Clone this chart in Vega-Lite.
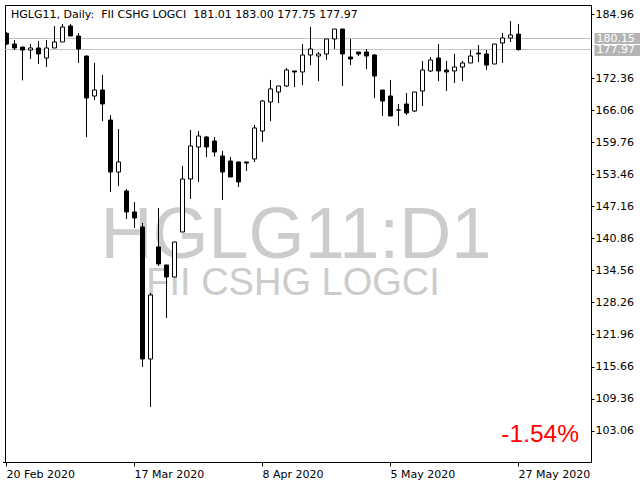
{
  "$schema": "https://vega.github.io/schema/vega-lite/v6.json",
  "width": 586,
  "height": 457,
  "autosize": {"type": "none"},
  "padding": {"left": 5, "top": 5, "right": 49, "bottom": 18},
  "background": "white",
  "title": {
    "text": "HGLG11, Daily:\u00a0 FII CSHG LOGCI\u00a0 181.01 183.00 177.75 177.97",
    "anchor": "start",
    "frame": "group",
    "offset": -24,
    "dx": 6,
    "font": "DejaVu Sans",
    "fontSize": 11,
    "fontWeight": "normal",
    "color": "black",
    "baseline": "alphabetic"
  },
  "datasets": {
    "ohlc": [
      {"d": "2020-02-20", "o": 181.15, "h": 181.40, "l": 178.90, "c": 179.06},
      {"d": "2020-02-21", "o": 179.06, "h": 179.85, "l": 177.88, "c": 178.28},
      {"d": "2020-02-26", "o": 178.47, "h": 178.47, "l": 171.90, "c": 177.88},
      {"d": "2020-02-27", "o": 177.88, "h": 179.06, "l": 176.11, "c": 178.28},
      {"d": "2020-02-28", "o": 178.28, "h": 179.65, "l": 175.13, "c": 177.10},
      {"d": "2020-03-02", "o": 176.31, "h": 179.85, "l": 174.54, "c": 178.28},
      {"d": "2020-03-03", "o": 178.28, "h": 182.60, "l": 178.28, "c": 179.46},
      {"d": "2020-03-04", "o": 179.46, "h": 182.99, "l": 179.46, "c": 182.40},
      {"d": "2020-03-05", "o": 182.60, "h": 182.99, "l": 180.64, "c": 180.64},
      {"d": "2020-03-06", "o": 180.64, "h": 181.22, "l": 175.33, "c": 178.08},
      {"d": "2020-03-09", "o": 176.70, "h": 176.80, "l": 160.78, "c": 168.45},
      {"d": "2020-03-10", "o": 168.84, "h": 175.33, "l": 168.05, "c": 170.02},
      {"d": "2020-03-11", "o": 170.02, "h": 172.97, "l": 163.93, "c": 167.27},
      {"d": "2020-03-12", "o": 164.12, "h": 165.11, "l": 149.97, "c": 153.90},
      {"d": "2020-03-13", "o": 153.90, "h": 162.35, "l": 151.15, "c": 155.87},
      {"d": "2020-03-16", "o": 150.17, "h": 150.56, "l": 144.66, "c": 146.04},
      {"d": "2020-03-17", "o": 146.04, "h": 148.00, "l": 142.89, "c": 144.86},
      {"d": "2020-03-18", "o": 143.09, "h": 143.88, "l": 115.57, "c": 117.14},
      {"d": "2020-03-19", "o": 117.14, "h": 130.11, "l": 107.70, "c": 129.72},
      {"d": "2020-03-20", "o": 139.16, "h": 146.82, "l": 135.42, "c": 135.82},
      {"d": "2020-03-23", "o": 135.62, "h": 135.62, "l": 125.20, "c": 133.26},
      {"d": "2020-03-24", "o": 133.26, "h": 140.14, "l": 133.26, "c": 140.14},
      {"d": "2020-03-25", "o": 142.11, "h": 155.08, "l": 142.11, "c": 152.52},
      {"d": "2020-03-26", "o": 152.52, "h": 162.16, "l": 148.59, "c": 159.01},
      {"d": "2020-03-27", "o": 158.82, "h": 161.96, "l": 151.94, "c": 160.98},
      {"d": "2020-03-30", "o": 160.78, "h": 160.98, "l": 156.85, "c": 158.82},
      {"d": "2020-03-31", "o": 159.99, "h": 160.78, "l": 156.90, "c": 157.83},
      {"d": "2020-04-01", "o": 157.05, "h": 158.03, "l": 148.40, "c": 153.90},
      {"d": "2020-04-02", "o": 156.06, "h": 156.85, "l": 152.92, "c": 152.92},
      {"d": "2020-04-03", "o": 155.87, "h": 155.87, "l": 150.95, "c": 151.94},
      {"d": "2020-04-06", "o": 155.87, "h": 155.87, "l": 154.10, "c": 155.67},
      {"d": "2020-04-07", "o": 156.46, "h": 163.14, "l": 155.87, "c": 162.55},
      {"d": "2020-04-08", "o": 161.96, "h": 168.05, "l": 159.80, "c": 167.86},
      {"d": "2020-04-09", "o": 167.66, "h": 171.99, "l": 163.93, "c": 170.22},
      {"d": "2020-04-13", "o": 169.63, "h": 170.81, "l": 167.46, "c": 170.81},
      {"d": "2020-04-14", "o": 170.81, "h": 174.35, "l": 170.61, "c": 173.95},
      {"d": "2020-04-15", "o": 173.76, "h": 173.76, "l": 170.61, "c": 173.56},
      {"d": "2020-04-16", "o": 173.56, "h": 179.06, "l": 171.00, "c": 176.90},
      {"d": "2020-04-17", "o": 176.90, "h": 182.40, "l": 174.93, "c": 178.08},
      {"d": "2020-04-20", "o": 176.70, "h": 177.49, "l": 171.79, "c": 177.10},
      {"d": "2020-04-22", "o": 177.10, "h": 180.05, "l": 175.92, "c": 180.05},
      {"d": "2020-04-23", "o": 180.05, "h": 182.01, "l": 178.08, "c": 182.01},
      {"d": "2020-04-24", "o": 182.01, "h": 182.01, "l": 170.81, "c": 177.10},
      {"d": "2020-04-27", "o": 176.51, "h": 180.05, "l": 174.93, "c": 176.11},
      {"d": "2020-04-28", "o": 177.49, "h": 177.49, "l": 176.70, "c": 177.10},
      {"d": "2020-04-29", "o": 177.49, "h": 178.08, "l": 174.15, "c": 176.70},
      {"d": "2020-04-30", "o": 176.90, "h": 177.10, "l": 168.45, "c": 172.77},
      {"d": "2020-05-04", "o": 170.02, "h": 170.02, "l": 164.91, "c": 167.86},
      {"d": "2020-05-05", "o": 168.84, "h": 171.99, "l": 164.91, "c": 164.91},
      {"d": "2020-05-06", "o": 166.09, "h": 167.27, "l": 162.94, "c": 166.09},
      {"d": "2020-05-07", "o": 167.27, "h": 169.43, "l": 165.11, "c": 165.50},
      {"d": "2020-05-08", "o": 165.89, "h": 169.63, "l": 165.70, "c": 169.63},
      {"d": "2020-05-11", "o": 169.82, "h": 175.72, "l": 166.87, "c": 173.95},
      {"d": "2020-05-12", "o": 173.76, "h": 176.51, "l": 173.56, "c": 175.92},
      {"d": "2020-05-13", "o": 176.31, "h": 179.06, "l": 171.79, "c": 173.76},
      {"d": "2020-05-14", "o": 173.95, "h": 175.72, "l": 169.82, "c": 173.56},
      {"d": "2020-05-15", "o": 173.76, "h": 177.10, "l": 171.40, "c": 174.54},
      {"d": "2020-05-18", "o": 174.54, "h": 175.72, "l": 171.79, "c": 175.33},
      {"d": "2020-05-19", "o": 175.33, "h": 177.88, "l": 175.33, "c": 176.70},
      {"d": "2020-05-20", "o": 177.29, "h": 178.87, "l": 175.52, "c": 177.10},
      {"d": "2020-05-21", "o": 177.10, "h": 177.88, "l": 173.95, "c": 174.93},
      {"d": "2020-05-22", "o": 175.13, "h": 179.06, "l": 175.13, "c": 179.06},
      {"d": "2020-05-25", "o": 179.26, "h": 181.22, "l": 175.33, "c": 180.24},
      {"d": "2020-05-26", "o": 180.24, "h": 183.58, "l": 179.46, "c": 180.83},
      {"d": "2020-05-27", "o": 181.01, "h": 183.00, "l": 177.75, "c": 177.97}
    ],
    "levels": [
      {"p": 180.15},
      {"p": 177.97}
    ]
  },
  "data": {"name": "ohlc"},
  "layer": [
    {
      "data": {"values": [{"t": "HGLG11:D1"}]},
      "mark": {"type": "text", "x": {"expr": "width/2 - 2"}, "y": {"expr": "height*0.5543"}, "align": "center", "baseline": "alphabetic", "font": "Liberation Sans", "fontSize": 72, "color": "#cccccc"},
      "encoding": {"text": {"field": "t"}}
    },
    {
      "data": {"values": [{"t": "FII CSHG LOGCI"}]},
      "mark": {"type": "text", "x": {"expr": "width/2 - 5"}, "y": {"expr": "height*0.6346"}, "align": "center", "baseline": "alphabetic", "font": "Liberation Sans", "fontSize": 38, "color": "#cccccc"},
      "encoding": {"text": {"field": "t"}}
    },
    {
      "data": {"name": "levels"},
      "mark": {"type": "rule", "color": "#c0c0c0", "strokeWidth": 1},
      "encoding": {
        "y": {
          "field": "p", "type": "quantitative",
          "scale": {"domain": [96.89, 186.73], "zero": false, "nice": false},
          "axis": {
            "orient": "right", "values": [180.15, 177.97], "format": ".2f",
            "offset": 3, "domain": false, "grid": false, "title": null,
            "tickSize": 46, "tickWidth": 11, "tickColor": "#b4b4b4",
            "labelColor": "white", "labelPadding": -44, "labelOverlap": false, "labelBound": false,
            "labelFont": "DejaVu Sans", "labelFontSize": 11, "labelAlign": "left", "labelBaseline": "middle",
            "zindex": 1
          }
        }
      }
    },
    {
      "mark": {"type": "rule", "color": "black", "strokeWidth": 1, "clip": true},
      "encoding": {
        "x": {
          "field": "d", "type": "ordinal",
          "scale": {"type": "band", "range": [-2.5, 517.5], "paddingInner": 0, "paddingOuter": 0},
          "axis": {
            "orient": "bottom", "values": ["2020-02-20", "2020-03-17", "2020-04-08", "2020-05-05", "2020-05-27"],
            "labelExpr": "utcFormat(toDate(datum.value), '%-d %b %Y')",
            "title": null, "grid": false, "domainColor": "black", "tickColor": "black", "tickSize": 4,
            "labelAlign": "left", "labelBaseline": "top", "labelPadding": 2, "labelAngle": 0,
            "labelFont": "DejaVu Sans", "labelFontSize": 11, "labelColor": "black", "labelOverlap": false
          }
        },
        "y": {
          "field": "l", "type": "quantitative",
          "scale": {"domain": [96.89, 186.73], "zero": false, "nice": false},
          "axis": {
            "orient": "right",
            "values": [184.96, 172.36, 166.06, 159.76, 153.46, 147.16, 140.86, 134.56, 128.26, 121.96, 115.66, 109.36, 103.06],
            "format": ".2f", "title": null, "grid": false,
            "domainColor": "black", "tickColor": "black", "tickSize": 3, "labelPadding": 1,
            "labelFont": "DejaVu Sans", "labelFontSize": 11, "labelColor": "black", "labelOverlap": false
          }
        },
        "y2": {"field": "h"}
      }
    },
    {
      "mark": {"type": "bar", "width": 4, "stroke": "black", "strokeWidth": 1, "clip": true},
      "encoding": {
        "x": {"field": "d", "type": "ordinal"},
        "y": {"field": "o", "type": "quantitative", "axis": null, "scale": {"domain": [96.89, 186.73], "zero": false, "nice": false}},
        "y2": {"field": "c"},
        "fill": {"condition": {"test": "datum.o > datum.c", "value": "black"}, "value": "white"}
      }
    },
    {
      "data": {"values": [{"t": "-1.54%"}]},
      "mark": {"type": "text", "x": {"expr": "width - 12"}, "y": {"expr": "height - 20"}, "align": "right", "baseline": "alphabetic", "font": "Liberation Sans", "fontSize": 24.5, "color": "#ff0000"},
      "encoding": {"text": {"field": "t"}}
    }
  ],
  "resolve": {"axis": {"y": "independent"}},
  "config": {
    "view": {"stroke": "black", "strokeWidth": 1}
  }
}
